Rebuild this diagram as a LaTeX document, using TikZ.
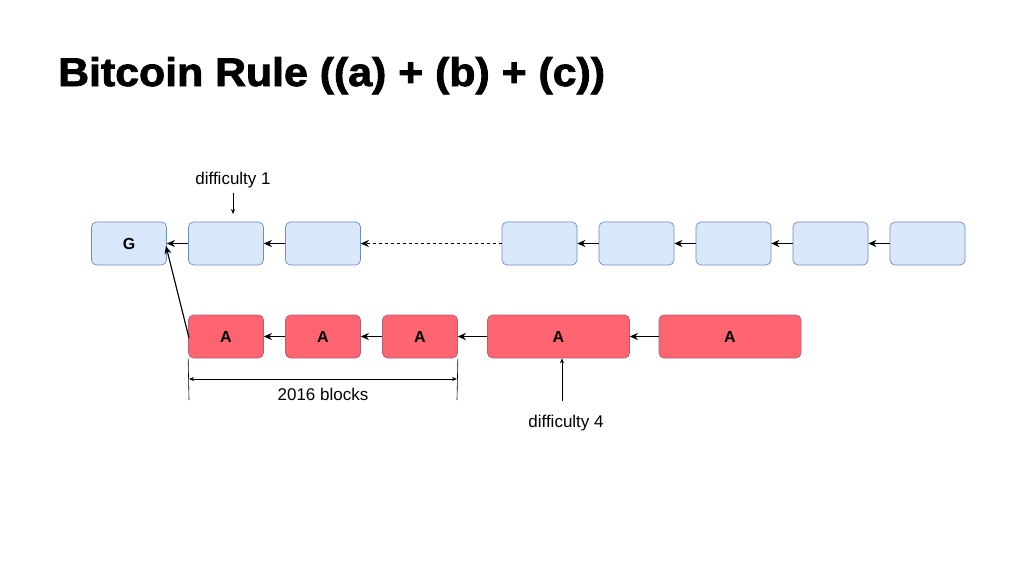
\documentclass[tikz,border=0pt]{standalone}
\usepackage{fontspec}
\setmainfont{Liberation Sans}
\newfontfamily\titlefont[FakeBold=2]{Liberation Sans Bold}
\usetikzlibrary{arrows.meta}
\definecolor{bfill}{HTML}{DAE8FC}
\definecolor{bdraw}{HTML}{6C8EBF}
\definecolor{rfill}{HTML}{FF6471}
\definecolor{rdraw}{HTML}{B0607A}
\begin{document}
\begin{tikzpicture}[x=1pt,y=-1pt,
  blk/.style={draw=bdraw,fill=bfill,rounded corners=5pt,line width=0.7pt,minimum height=43pt,minimum width=75pt,inner sep=0pt,font=\bfseries\fontsize{16}{16}\selectfont},
  ablk/.style={draw=rdraw,fill=rfill,rounded corners=5pt,line width=0.7pt,minimum height=43pt,inner sep=0pt,font=\bfseries\fontsize{16}{16}\selectfont},
  link/.style={-{Stealth[length=8pt,width=7pt]},line width=1.1pt},
  thin/.style={-{Stealth[length=5pt,width=4pt]},line width=0.6pt},
  lbl/.style={font=\fontsize{17}{17}\selectfont,inner sep=1pt}]
\useasboundingbox (0,0) rectangle (1024,576);
\node[anchor=base west,inner sep=0pt] (title) at (58,86) {\scalebox{1.07}[1]{\fontsize{40}{40}\titlefont Bitcoin Rule ((a) + (b) + (c))}};
% blue chain
\node[blk] (g) at (129,243.5) {G};
\node[blk] (b2) at (226,243.5) {};
\node[blk] (b3) at (323,243.5) {};
\node[blk] (b4) at (539.5,243.5) {};
\node[blk] (b5) at (636.5,243.5) {};
\node[blk] (b6) at (733.5,243.5) {};
\node[blk] (b7) at (830.5,243.5) {};
\node[blk] (b8) at (927.5,243.5) {};
\draw[link] (b2) -- (g);
\draw[link] (b3) -- (b2);
\draw[link,dashed] (b4) -- (b3);
\draw[link] (b5) -- (b4);
\draw[link] (b6) -- (b5);
\draw[link] (b7) -- (b6);
\draw[link] (b8) -- (b7);
% red chain
\node[ablk,minimum width=75pt] (a1) at (226,336.5) {A};
\node[ablk,minimum width=75pt] (a2) at (323,336.5) {A};
\node[ablk,minimum width=75pt] (a3) at (420,336.5) {A};
\node[ablk,minimum width=142pt] (a4) at (558.5,336.5) {A};
\node[ablk,minimum width=142pt] (a5) at (730,336.5) {A};
\draw[link] (a2) -- (a1);
\draw[link] (a3) -- (a2);
\draw[link] (a4) -- (a3);
\draw[link] (a5) -- (a4);
\coordinate (fa) at (189,338);
\coordinate (ga) at (166,246);
\draw[link] (fa) -- (ga);
% annotations
\node[lbl] (d1) at (233,180) {difficulty 1};
\coordinate (d1s) at (233,193);
\coordinate (d1e) at (233,214);
\draw[thin] (d1s) -- (d1e);
\node[lbl] (d4) at (566,423) {difficulty 4};
\coordinate (d4t) at (562,401);
\draw[thin] (d4t) -- (a4.south -| d4t);
% dimension
\coordinate (dl) at (189,400);
\coordinate (dr) at (457,400);
\draw[line width=0.6pt] (a1.south west) -- (dl);
\draw[line width=0.6pt] (a3.south east) -- (dr);
\coordinate (hl) at (189,379);
\coordinate (hr) at (457,379);
\draw[{Stealth[length=5pt,width=4pt]}-{Stealth[length=5pt,width=4pt]},line width=0.6pt] (hl) -- (hr);
\node[lbl] (dim) at (323,394) {2016 blocks};
\end{tikzpicture}
\end{document}
